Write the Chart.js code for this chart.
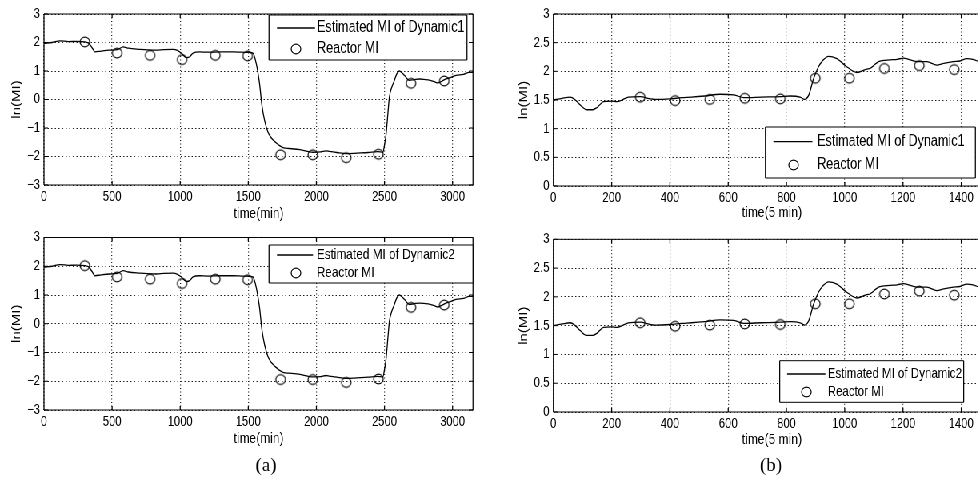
<!DOCTYPE html>
<html>
<head>
<meta charset="utf-8">
<script src="https://cdn.jsdelivr.net/npm/chart.js@4.4.0/dist/chart.umd.min.js"></script>
<style>
html, body { margin: 0; padding: 0; background: #fff; overflow: hidden; width: 978px; height: 481px; }
#fig { position: absolute; left: 0; top: 0; width: 1250px; height: 481px; transform: scaleX(0.8); transform-origin: 0 0; }
#fig canvas { position: absolute; }
.cap { position: absolute; top: 455px; line-height: 20px; font-family: "Liberation Serif", "Times New Roman", serif; font-size: 19px; color: #000; transform: translateX(-50%); }
</style>
</head>
<body>
<div id="fig"></div>
<div class="cap" style="left:266px">(a)</div>
<div class="cap" style="left:771px">(b)</div>
<script>
// (a) estimated ln(MI), time in min  (Dynamic1 and Dynamic2 read the same)
var timeA = [0, 60, 117, 180, 240, 300, 330, 355, 374, 420, 484, 540, 581, 620, 704, 760, 826, 880, 948, 980,
  1010, 1046, 1070, 1094, 1143, 1200, 1300, 1388, 1450, 1510, 1534, 1559, 1583, 1600, 1620, 1645, 1670, 1700, 1730, 1760,
  1800, 1880, 1974, 2030, 2070, 2096, 2150, 2219, 2300, 2380, 2451, 2488, 2500, 2512, 2525, 2536, 2555, 2573, 2590, 2609,
  2630, 2646, 2683, 2720, 2756, 2800, 2829, 2870, 2890, 2920, 2951, 2990, 3024, 3080, 3122, 3150];
var estA = [1.97, 2.00, 2.06, 2.03, 2.04, 2.02, 1.97, 1.80, 1.67, 1.70, 1.73, 1.75, 1.85, 1.80, 1.76, 1.74, 1.73, 1.75, 1.76, 1.72,
  1.62, 1.47, 1.50, 1.63, 1.67, 1.66, 1.67, 1.67, 1.66, 1.65, 1.63, 1.25, 0.55, -0.20, -0.74, -1.15, -1.35, -1.50, -1.62, -1.70,
  -1.72, -1.76, -1.85, -1.84, -1.80, -1.82, -1.86, -1.90, -1.88, -1.86, -1.83, -1.85, -1.60, -1.21, -0.50, 0.08, 0.45, 0.67, 0.90, 1.00,
  0.93, 0.85, 0.67, 0.70, 0.72, 0.70, 0.68, 0.62, 0.58, 0.64, 0.72, 0.78, 0.85, 0.88, 0.95, 0.95];
// (a) reactor samples
var labTimeA = [300, 537, 779, 1014, 1258, 1495, 1737, 1974, 2219, 2456, 2695, 2939];
var labMIA = [2.02, 1.63, 1.55, 1.40, 1.55, 1.53, -1.94, -1.94, -2.04, -1.92, 0.57, 0.65];

// (b) estimated ln(MI), time in 5 min steps
var timeB = [0, 30, 58, 75, 93, 114, 135, 150, 172, 200, 218, 240, 257, 298, 333, 349, 401, 440, 474, 520,
  572, 620, 653, 714, 780, 813, 847, 862, 876, 893, 910, 927, 944, 973, 1007, 1042, 1076, 1087, 1116, 1156,
  1180, 1202, 1248, 1282, 1316, 1340, 1373, 1395, 1419, 1440, 1460];
var estB = [1.50, 1.53, 1.55, 1.50, 1.41, 1.33, 1.33, 1.37, 1.47, 1.48, 1.47, 1.51, 1.55, 1.56, 1.52, 1.51, 1.52, 1.54, 1.55, 1.57,
  1.60, 1.59, 1.54, 1.55, 1.56, 1.57, 1.55, 1.51, 1.58, 1.87, 2.08, 2.20, 2.26, 2.22, 2.08, 1.98, 2.04, 2.05, 2.17, 2.20,
  2.21, 2.23, 2.17, 2.17, 2.11, 2.14, 2.17, 2.18, 2.22, 2.21, 2.17];
// (b) reactor samples
var labTimeB = [298, 418, 537, 657, 779, 899, 1016, 1136, 1256, 1376];
var labMIB = [1.55, 1.49, 1.51, 1.53, 1.52, 1.88, 1.88, 2.05, 2.10, 2.03];

// tick labels
var xTicksA = [0, 500, 1000, 1500, 2000, 2500, 3000];
var yTicksA = [-3, -2, -1, 0, 1, 2, 3];
var xTicksB = [0, 200, 400, 600, 800, 1000, 1200, 1400];
var yTicksB = [0, 0.5, 1, 1.5, 2, 2.5, 3];

var S = 0.8; // the figure is horizontally squeezed
var FONT = '"Liberation Sans", Arial, sans-serif';
var INK = '#000';

function ring(r) {
  var c = document.createElement('canvas');
  c.width = Math.ceil(2 * r / S + 4);
  c.height = Math.ceil(2 * r + 4);
  var g = c.getContext('2d');
  g.strokeStyle = INK;
  g.lineWidth = 1.2;
  g.beginPath();
  g.ellipse(c.width / 2, c.height / 2, r / S, r, 0, 0, Math.PI * 2);
  g.stroke();
  return c;
}
var dot = ring(4.8);

function pts(xs, ys) {
  return xs.map(function (x, i) { return { x: x, y: ys[i] }; });
}

// axes box, inward ticks and the in-plot legend
var frame = {
  id: 'frame',
  afterDatasetsDraw: function (chart) {
    var a = chart.chartArea, ctx = chart.ctx;
    ctx.save();
    ctx.strokeStyle = INK;
    ctx.lineWidth = 1;
    ctx.beginPath();
    ctx.moveTo(a.left, a.top); ctx.lineTo(a.right, a.top);
    ctx.moveTo(a.left, a.bottom); ctx.lineTo(a.right, a.bottom);
    ctx.stroke();
    ctx.lineWidth = 1.25;
    ctx.beginPath();
    ctx.moveTo(a.left, a.top); ctx.lineTo(a.left, a.bottom);
    ctx.moveTo(a.right, a.top); ctx.lineTo(a.right, a.bottom);
    chart.scales.x.ticks.forEach(function (t) {
      var px = chart.scales.x.getPixelForValue(t.value);
      ctx.moveTo(px, a.bottom); ctx.lineTo(px, a.bottom - 4);
      ctx.moveTo(px, a.top); ctx.lineTo(px, a.top + 4);
    });
    ctx.stroke();
    ctx.lineWidth = 1;
    ctx.beginPath();
    chart.scales.y.ticks.forEach(function (t) {
      var py = chart.scales.y.getPixelForValue(t.value);
      ctx.moveTo(a.left, py); ctx.lineTo(a.left + 4 / S, py);
      ctx.moveTo(a.right, py); ctx.lineTo(a.right - 4 / S, py);
    });
    ctx.stroke();
    ctx.restore();
  },
  afterDraw: function (chart, args, o) {
    var ctx = chart.ctx, ds = chart.data.datasets;
    function X(v) { return (v - o.cl) / S; }
    function Y(v) { return v - o.ct; }
    var b = o.box;
    ctx.save();
    ctx.fillStyle = '#fff';
    ctx.fillRect(X(b[0]), Y(b[1]), X(b[2]) - X(b[0]), Y(b[3]) - Y(b[1]));
    ctx.strokeStyle = INK;
    ctx.lineWidth = 1;
    ctx.beginPath();
    ctx.moveTo(X(b[0]), Y(b[1])); ctx.lineTo(X(b[2]), Y(b[1]));
    ctx.moveTo(X(b[0]), Y(b[3])); ctx.lineTo(X(b[2]), Y(b[3]));
    ctx.stroke();
    ctx.lineWidth = 1.25;
    ctx.beginPath();
    ctx.moveTo(X(b[0]), Y(b[1])); ctx.lineTo(X(b[0]), Y(b[3]));
    ctx.moveTo(X(b[2]), Y(b[1])); ctx.lineTo(X(b[2]), Y(b[3]));
    ctx.stroke();
    ctx.lineWidth = 1.3;
    ctx.beginPath();
    ctx.moveTo(X(o.line[0]), Y(o.rows[0])); ctx.lineTo(X(o.line[1]), Y(o.rows[0]));
    ctx.stroke();
    ctx.drawImage(dot, Math.round(X(o.dot) - dot.width / 2), Math.round(Y(o.rows[1]) - dot.height / 2));
    ctx.fillStyle = '#000';
    ctx.font = o.size + 'px ' + FONT;
    ctx.textBaseline = 'middle';
    ctx.textAlign = 'left';
    ctx.fillText(ds[0].label, X(o.text), Y(o.rows[0]));
    ctx.fillText(ds[1].label, X(o.text), Y(o.rows[1]));
    ctx.restore();
  }
};

function panel(p) {
  var cv = document.createElement('canvas');
  var w = Math.round(p.cw / S);
  var h = Math.round(p.plot[3] - p.ct + p.xh);
  cv.width = w; cv.height = h;
  cv.style.left = (p.cl / S) + 'px';
  cv.style.top = p.ct + 'px';
  document.getElementById('fig').appendChild(cv);

  var padL = (p.ytx - p.cl) / S - 9;
  var yW = (p.plot[0] - p.cl) / S - padL;
  var padR = w - (p.plot[2] - p.cl) / S;
  var padT = p.plot[1] - p.ct;
  var xFmt = function (v) { return String(v); };
  var yFmt = function (v) { return String(v).replace('-', '\u2212'); };
  p.legend.cl = p.cl; p.legend.ct = p.ct;

  new Chart(cv, {
    type: 'line',
    data: {
      datasets: [
        { label: p.name, data: pts(p.xs, p.ys), borderColor: INK, borderWidth: 1.3, pointRadius: 0,
          cubicInterpolationMode: 'monotone', fill: false },
        { label: 'Reactor MI', data: pts(p.lx, p.ly), showLine: false, pointStyle: dot, pointRadius: 5,
          borderColor: INK, backgroundColor: 'rgba(0,0,0,0)' }
      ]
    },
    options: {
      responsive: false, animation: false, devicePixelRatio: 1, events: [],
      layout: { padding: { left: padL, top: padT, right: padR, bottom: 0 } },
      plugins: { legend: { display: false }, tooltip: { enabled: false }, frame: p.legend },
      scales: {
        x: {
          type: 'linear', min: 0, max: p.xmax,
          afterBuildTicks: function (s) { s.ticks = p.xt.map(function (v) { return { value: v }; }); },
          afterFit: function (s) { s.height = p.xh; s.paddingLeft = 0; s.paddingRight = 0; },
          grid: { color: '#222', lineWidth: 1.25, drawTicks: false },
          border: { display: false, dash: [1, 2.5] },
          ticks: { color: '#000', font: { family: FONT, size: 14 }, padding: 4, maxRotation: 0, autoSkip: false, callback: xFmt },
          title: { display: true, text: p.xlabel, color: '#000', font: { family: FONT, size: 15 }, padding: { top: 0, bottom: 3 } }
        },
        y: {
          type: 'linear', min: p.ymin, max: p.ymax,
          afterBuildTicks: function (s) { s.ticks = p.yt.map(function (v) { return { value: v }; }); },
          afterFit: function (s) { s.width = yW; s.paddingTop = 0; s.paddingBottom = 0; },
          grid: { color: '#222', lineWidth: 1, drawTicks: false },
          border: { display: false, dash: [1.5, 3] },
          ticks: { color: '#000', font: { family: FONT, size: 14 }, padding: 5, autoSkip: false, callback: yFmt },
          title: { display: true, text: 'ln(MI)', color: '#000', font: { family: FONT, size: 15 }, padding: { top: 0, bottom: 0 } }
        }
      }
    },
    plugins: [frame]
  });
}

panel({ cl: 0, ct: 0, cw: 490, plot: [44, 14, 473, 184.5], xh: 41, ytx: 17,
  xs: timeA, ys: estA, lx: labTimeA, ly: labMIA, name: 'Estimated MI of Dynamic1',
  xmax: 3150, ymin: -3, ymax: 3, xt: xTicksA, yt: yTicksA, xlabel: 'time(min)',
  legend: { box: [269, 15, 467, 60], rows: [28, 49], line: [277, 315], dot: 296, text: 317, size: 15.8 } });

panel({ cl: 0, ct: 224, cw: 490, plot: [44, 237.5, 473, 410], xh: 41, ytx: 17,
  xs: timeA, ys: estA, lx: labTimeA, ly: labMIA, name: 'Estimated MI of Dynamic2',
  xmax: 3150, ymin: -3, ymax: 3, xt: xTicksA, yt: yTicksA, xlabel: 'time(min)',
  legend: { box: [269, 245, 473, 283], rows: [255, 273.3], line: [277, 313], dot: 296, text: 316.7, size: 14.8 } });

panel({ cl: 490, ct: 0, cw: 520, plot: [553, 14, 990, 186], xh: 39, ytx: 523.5,
  xs: timeB, ys: estB, lx: labTimeB, ly: labMIB, name: 'Estimated MI of Dynamic1',
  xmax: 1500, ymin: 0, ymax: 3, xt: xTicksB, yt: yTicksB, xlabel: 'time(5 min)',
  legend: { box: [765, 127, 975, 178], rows: [141.7, 165], line: [773, 812], dot: 793, text: 816.7, size: 15.8 } });

panel({ cl: 490, ct: 225, cw: 520, plot: [553, 239.3, 990, 411.5], xh: 40, ytx: 523.5,
  xs: timeB, ys: estB, lx: labTimeB, ly: labMIB, name: 'Estimated MI of Dynamic2',
  xmax: 1500, ymin: 0, ymax: 3, xt: xTicksB, yt: yTicksB, xlabel: 'time(5 min)',
  legend: { box: [779.3, 360.7, 963.3, 402.3], rows: [374, 391.7], line: [786.7, 825], dot: 806, text: 827.3, size: 14.4 } });
</script>
</body>
</html>
